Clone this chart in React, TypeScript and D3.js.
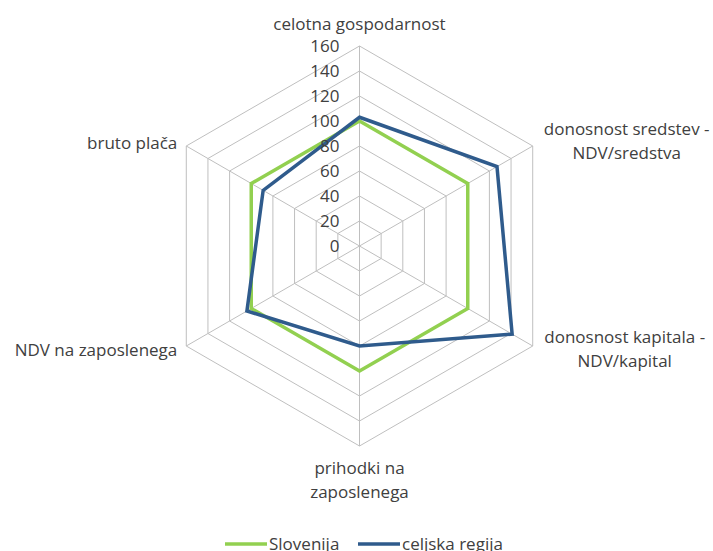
import React from "react";
import * as d3 from "d3";

const categories = [
  ["celotna gospodarnost"],
  ["donosnost sredstev -", "NDV/sredstva"],
  ["donosnost kapitala -", "NDV/kapital"],
  ["prihodki na", "zaposlenega"],
  ["NDV na zaposlenega"],
  ["bruto plača"],
];
const slovenija = [100, 100, 100, 100, 100, 100];
const celjska = [103, 127, 141, 80, 104, 89];
const ticks = [0, 20, 40, 60, 80, 100, 120, 140, 160];
const seriesNames = ["Slovenija", "celjska regija"];
const colors = ["#92D050", "#2F5B8C"];

const W = 713;
const H = 551;
const cx = 359.5;
const cy = 246;
const R = 200;
const FONT = "'Open Sans', sans-serif";
const FS = 17;

export default function App() {
  const r = d3.scaleLinear().domain([0, 160]).range([0, R]);
  const n = categories.length;
  const ang = (i: number) => (i * 2 * Math.PI) / n;
  const pt = (i: number, v: number): [number, number] => [
    cx + r(v) * Math.sin(ang(i)),
    cy - r(v) * Math.cos(ang(i)),
  ];
  const radial = d3
    .lineRadial<number>()
    .angle((_, i) => ang(i))
    .radius((d) => r(d))
    .curve(d3.curveLinearClosed);

  const ringPath = (v: number) =>
    radial(categories.map(() => v)) as string;

  // label layout (offsets from outer vertex)
  const labelLayout = [
    { dx: 0, dy: -22, anchor: "middle" },
    { dx: 94, dy: -17, anchor: "middle" },
    { dx: 92, dy: -9, anchor: "middle" },
    { dx: 0, dy: 22, anchor: "middle" },
    { dx: -9, dy: 4, anchor: "end" },
    { dx: -9, dy: -3, anchor: "end" },
  ];

  return (
    <svg
      width={W}
      height={H}
      style={{ position: "absolute", left: 0, top: 0, background: "#fff" }}
      fontFamily={FONT}
    >
      <g transform={`translate(${cx},${cy})`}>
        {ticks.slice(1).map((t) => (
          <path key={t} d={ringPath(t)} fill="none" stroke="#BFBFBF" strokeWidth={1} />
        ))}
        {categories.map((_, i) => {
          const [x, y] = pt(i, 160);
          return (
            <line key={i} x1={0} y1={0} x2={x - cx} y2={y - cy} stroke="#BFBFBF" strokeWidth={1} />
          );
        })}
        {[slovenija, celjska].map((s, k) => (
          <path
            key={k}
            d={radial(s) as string}
            fill="none"
            stroke={colors[k]}
            strokeWidth={3.5}
            strokeLinejoin="miter"
          />
        ))}
      </g>
      {ticks.map((t) => (
        <text
          key={t}
          x={cx - 20}
          y={cy - r(t)}
          dy="0.35em"
          textAnchor="end"
          fontSize={FS}
          fill="#404040"
        >
          {t}
        </text>
      ))}
      {categories.map((lines, i) => {
        const [vx, vy] = pt(i, 160);
        const L = labelLayout[i];
        return (
          <text
            key={i}
            x={vx + L.dx}
            y={vy + L.dy}
            textAnchor={L.anchor as any}
            fontSize={FS}
            fill="#404040"
          >
            {lines.map((ln, j) => (
              <tspan key={j} x={vx + L.dx} dy={j === 0 ? "0.35em" : 24}>
                {ln}
              </tspan>
            ))}
          </text>
        );
      })}
      <g>
        <line x1={225} x2={267} y1={544} y2={544} stroke={colors[0]} strokeWidth={3.5} />
        <text x={269} y={550} fontSize={FS} fill="#404040">
          {seriesNames[0]}
        </text>
        <line x1={358} x2={400} y1={544} y2={544} stroke={colors[1]} strokeWidth={3.5} />
        <text x={402} y={550} fontSize={FS} fill="#404040">
          {seriesNames[1]}
        </text>
      </g>
    </svg>
  );
}
